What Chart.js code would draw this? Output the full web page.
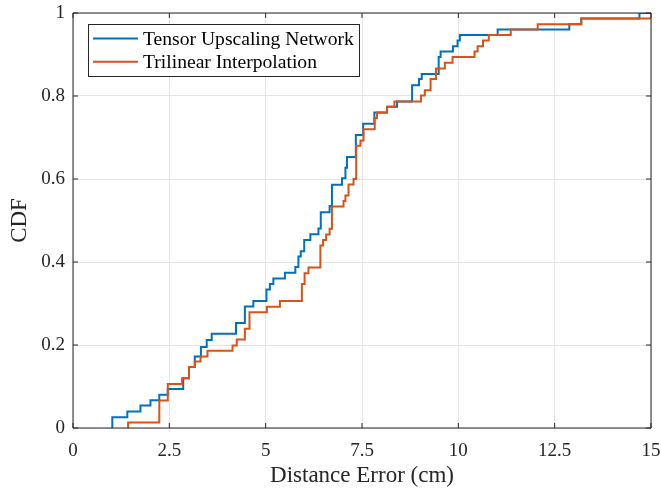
<!DOCTYPE html>
<html>
<head>
<meta charset="utf-8">
<script src="https://cdn.jsdelivr.net/npm/chart.js@4.4.1/dist/chart.umd.min.js"></script>
<style>
  html, body { margin: 0; padding: 0; background: #fff; }
  #wrap { width: 661px; height: 492px; }
</style>
</head>
<body>
<div id="wrap"><canvas id="cdfChart" width="661" height="492"></canvas></div>
<script>
// Data: x = distance error where the CDF steps, y = CDF after the step
const tunX = [1.02, 1.02, 1.41, 1.75, 2.01, 2.24, 2.46, 2.86, 3.01, 3.16, 3.32, 3.47, 3.60, 4.23, 4.46, 4.68,
  5.02, 5.11, 5.20, 5.50, 5.77, 5.85, 5.91, 6.00, 6.16, 6.37, 6.43, 6.66, 6.72, 6.98, 7.07, 7.11,
  7.34, 7.53, 7.82, 8.15, 8.41, 8.80, 8.98, 9.05, 9.49, 9.54, 9.86, 9.98, 10.04, 11.02, 12.88,
  13.19, 14.70, 15.0];
const tunCdf = [0, 0.026, 0.040, 0.054, 0.067, 0.080, 0.094, 0.120, 0.147, 0.172, 0.195, 0.212, 0.227, 0.253, 0.293, 0.306,
  0.334, 0.347, 0.360, 0.374, 0.388, 0.413, 0.426, 0.453, 0.467, 0.481, 0.520, 0.535, 0.586, 0.602, 0.627, 0.653,
  0.706, 0.733, 0.760, 0.774, 0.787, 0.826, 0.841, 0.853, 0.894, 0.907, 0.920, 0.934, 0.947, 0.960, 0.973,
  0.987, 1.0, 1.0];

const triX = [1.43, 1.43, 2.24, 2.46, 2.83, 3.01, 3.16, 3.31, 3.49, 4.14, 4.25, 4.46, 4.58, 5.03, 5.37,
  5.94, 6.01, 6.11, 6.42, 6.49, 6.57, 6.66, 6.72, 7.02, 7.07, 7.15, 7.28, 7.35, 7.46, 7.54, 7.83,
  7.89, 8.15, 8.34, 9.03, 9.13, 9.28, 9.42, 9.65, 9.85, 10.42, 10.50, 10.64, 10.79, 11.36, 12.06,
  13.19, 15.3];
const triCdf = [0, 0.013, 0.066, 0.106, 0.120, 0.147, 0.160, 0.172, 0.186, 0.199, 0.213, 0.239, 0.279, 0.292, 0.306,
  0.347, 0.373, 0.387, 0.440, 0.453, 0.466, 0.480, 0.534, 0.547, 0.560, 0.587, 0.600, 0.680, 0.693, 0.720, 0.747,
  0.760, 0.774, 0.787, 0.801, 0.814, 0.841, 0.866, 0.880, 0.894, 0.907, 0.920, 0.934, 0.947, 0.960, 0.973,
  0.987, 1.0];

const xTicks = [0, 2.5, 5, 7.5, 10, 12.5, 15];
const yTicks = [0, 0.2, 0.4, 0.6, 0.8, 1];
const seriesNames = ['Tensor Upscaling Network', 'Trilinear Interpolation'];

const serif = "'Liberation Serif', 'Times New Roman', serif";
const axisInk = '#262626';

function toPoints(xs, ys) {
  return xs.map((x, i) => ({ x: x, y: ys[i] }));
}

// keep the plot box where the layout padding puts it (no extra room for edge labels)
function noScalePadding(s) {
  s.paddingTop = 0;
  s.paddingBottom = 0;
  s.paddingLeft = 0;
  s.paddingRight = 0;
}

// Box around the plot with inward tick marks on all four sides (MATLAB look)
const boxTicks = {
  id: 'boxTicks',
  afterDatasetsDraw(chart) {
    const { ctx, chartArea: a, scales: { x, y } } = chart;
    ctx.save();
    ctx.strokeStyle = axisInk;
    ctx.lineWidth = 1;
    ctx.beginPath();
    ctx.rect(a.left, a.top, a.right - a.left, a.bottom - a.top);
    xTicks.forEach(v => {
      const px = x.getPixelForValue(v);
      ctx.moveTo(px, a.bottom); ctx.lineTo(px, a.bottom - 5);
      ctx.moveTo(px, a.top); ctx.lineTo(px, a.top + 5);
    });
    yTicks.forEach(v => {
      const py = y.getPixelForValue(v);
      ctx.moveTo(a.left, py); ctx.lineTo(a.left + 5, py);
      ctx.moveTo(a.right, py); ctx.lineTo(a.right - 5, py);
    });
    ctx.stroke();
    ctx.restore();
  }
};

// Boxed legend inside the upper left corner
const boxLegend = {
  id: 'boxLegend',
  afterDraw(chart) {
    const ctx = chart.ctx;
    const left = 88, top = 24, w = 271, h = 52;
    ctx.save();
    ctx.fillStyle = '#fff';
    ctx.fillRect(left, top, w, h);
    ctx.strokeStyle = axisInk;
    ctx.lineWidth = 1;
    ctx.strokeRect(left + 0.5, top + 0.5, w, h);
    ctx.font = '19.6px ' + serif;
    ctx.textBaseline = 'middle';
    chart.data.datasets.forEach((ds, i) => {
      const rowY = top + 14.5 + i * 23.2;
      ctx.strokeStyle = ds.borderColor;
      ctx.lineWidth = 2;
      ctx.beginPath();
      ctx.moveTo(93, rowY);
      ctx.lineTo(138, rowY);
      ctx.stroke();
      ctx.fillStyle = '#000';
      ctx.fillText(ds.label, 143, rowY + 1);
    });
    ctx.restore();
  }
};

const ctx = document.getElementById('cdfChart').getContext('2d');
const myChart = new Chart(ctx, {
  type: 'line',
  data: {
    datasets: [{
      label: seriesNames[0],
      data: toPoints(tunX, tunCdf),
      borderColor: '#0072BD',
      borderWidth: 2,
      stepped: true,
      pointRadius: 0,
      fill: false,
      order: 1
    }, {
      label: seriesNames[1],
      data: toPoints(triX, triCdf),
      borderColor: '#D95319',
      borderWidth: 2,
      stepped: true,
      pointRadius: 0,
      fill: false,
      order: 0
    }]
  },
  options: {
    responsive: false,
    animation: false,
    layout: { padding: { top: 13, right: 10, left: 0, bottom: 0 } },
    plugins: {
      legend: { display: false },
      tooltip: { enabled: false }
    },
    scales: {
      x: {
        type: 'linear',
        min: 0,
        max: 15,
        afterBuildTicks: s => { s.ticks = xTicks.map(v => ({ value: v })); },
        afterFit: s => { s.height = 64; noScalePadding(s); },
        grid: { color: '#e4e4e4', drawTicks: false },
        border: { display: false },
        ticks: {
          padding: 12,
          maxRotation: 0,
          color: axisInk,
          font: { family: serif, size: 19 },
          callback: v => String(v)
        },
        title: {
          display: true,
          text: 'Distance Error (cm)',
          color: axisInk,
          font: { family: serif, size: 23 },
          padding: { top: 0, bottom: 2 }
        }
      },
      y: {
        type: 'linear',
        min: 0,
        max: 1,
        afterBuildTicks: s => { s.ticks = yTicks.map(v => ({ value: v })); },
        afterFit: s => { s.width = 73; noScalePadding(s); },
        grid: { color: '#e4e4e4', drawTicks: false },
        border: { display: false },
        ticks: {
          padding: 8,
          color: axisInk,
          font: { family: serif, size: 19 },
          callback: v => String(v)
        },
        title: {
          display: true,
          text: 'CDF',
          color: axisInk,
          font: { family: serif, size: 23 },
          padding: { top: 6, bottom: 0 }
        }
      }
    }
  },
  plugins: [boxTicks, boxLegend]
});
</script>
</body>
</html>
